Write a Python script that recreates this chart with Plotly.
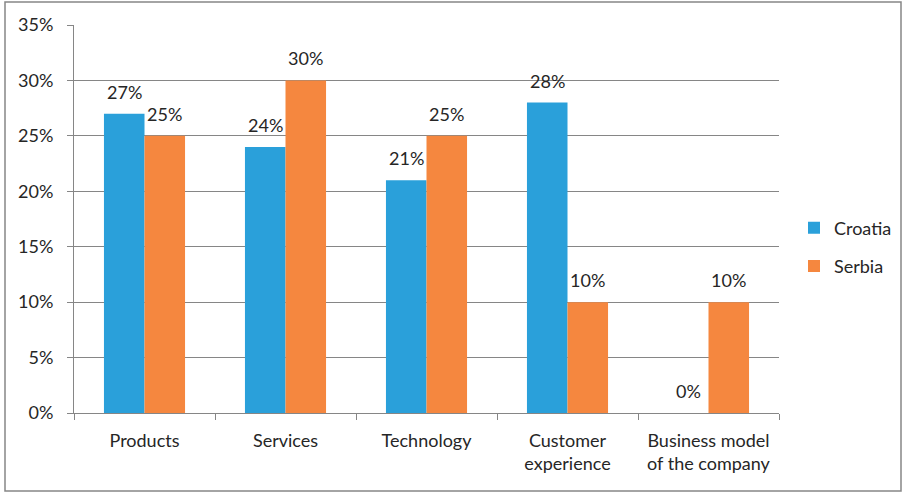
import plotly.graph_objects as go

categories = ["Products", "Services", "Technology", "Customer<br>experience", "Business model<br>of the company"]
croatia = [27, 24, 21, 28, 0]
serbia = [25, 30, 25, 10, 10]
y_ticks = [0, 5, 10, 15, 20, 25, 30, 35]

FONT = "Lato"
FS = 18
TXT = "#262626"
W, H = 903, 493
L, R, T, B = 74, 903 - 779, 25, 493 - 413

fig = go.Figure()
fig.add_trace(go.Bar(
    name="Croatia", x=categories, y=croatia,
    marker=dict(color="#2AA0DA", line=dict(width=0)),
    legendgroup="a",
))
fig.add_trace(go.Bar(
    name="Serbia", x=categories, y=serbia,
    marker=dict(color="#F5873F", line=dict(width=0)),
    legendgroup="b",
))

pw, ph = W - L - R, H - T - B
def px(x):
    return (x - L) / pw
def py(y):
    return (H - B - y) / ph

bar_px = pw / len(categories) * (1 - 0.425) / 2
annotations = []
for series, sign in ((croatia, -1), (serbia, 1)):
    for cat, v in zip(categories, series):
        annotations.append(dict(x=cat, y=v, xref="x", yref="y", text=f"{v}%",
                                showarrow=False, xanchor="center", yanchor="bottom",
                                xshift=sign * bar_px / 2, yshift=9,
                                font=dict(family=FONT, size=FS, color=TXT)))

fig.update_layout(
    width=W, height=H,
    margin=dict(l=L, r=R, t=T, b=B, pad=0, autoexpand=False),
    paper_bgcolor="white", plot_bgcolor="white",
    barmode="group", bargap=0.425, bargroupgap=0,
    font=dict(family=FONT, size=FS, color=TXT),
    showlegend=True,
    legend=dict(x=px(794), y=py(247), xanchor="left", yanchor="middle",
                font=dict(family=FONT, size=FS, color=TXT),
                tracegroupgap=12, itemwidth=30, bgcolor="rgba(0,0,0,0)"),
    xaxis=dict(showline=True, linecolor="#868686", linewidth=1,
               ticks="outside", tickson="boundaries", ticklen=6, tickcolor="#868686",
               tickfont=dict(family=FONT, size=FS, color=TXT), showgrid=False,
               ticklabelstandoff=11, automargin=False),
    yaxis=dict(range=[0, 35], tickvals=y_ticks, ticktext=[f"{v}%" for v in y_ticks],
               showline=True, linecolor="#868686", linewidth=1,
               showgrid=True, gridcolor="#868686", gridwidth=1,
               ticks="outside", ticklen=6, tickcolor="#868686",
               tickfont=dict(family=FONT, size=FS, color=TXT), zeroline=False,
               ticklabelstandoff=10, automargin=False),
    annotations=annotations,
    shapes=[dict(type="rect", xref="paper", yref="paper",
                 x0=px(5), x1=px(901), y0=py(491), y1=py(2),
                 line=dict(color="#868686", width=1.5), fillcolor="rgba(0,0,0,0)", layer="below")],
)

fig.write_html("out.html", config={"displayModeBar": False},
               post_script="document.body.style.margin='0';document.body.style.overflow='hidden';")
